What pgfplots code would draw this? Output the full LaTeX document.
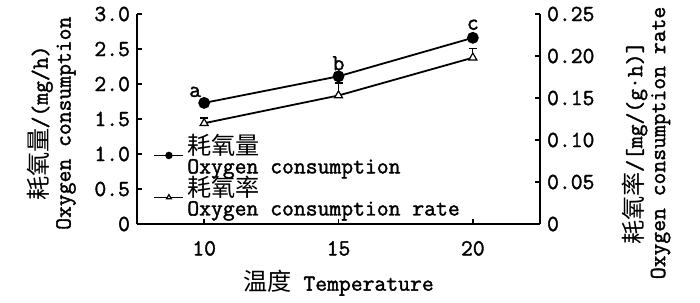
\documentclass[border=0pt]{standalone}
\usepackage{fontspec}
\newfontfamily\mono{Latin Modern Mono}[FakeBold=1.6]
\newfontfamily\cjk{Noto Sans CJK SC}[Scale=1.05]
\newcommand{\zh}[1]{{\cjk #1}}
\usepackage{pgfplots}
\pgfplotsset{compat=1.18}
\begin{document}
\begin{tikzpicture}[font=\mono\fontsize{11.5}{11.5}\selectfont]
\begin{axis}[
  scale only axis, width=201.5pt, height=105pt,
  xmin=7.5, xmax=22.5, ymin=0, ymax=3,
  axis x line*=bottom, axis y line*=left,
  axis line style={-, line width=0.9pt},
  xtick={10,15,20},
  ytick={0,0.5,1,1.5,2,2.5,3},
  yticklabels={0,0.5,1.0,1.5,2.0,2.5,3.0},
  tick align=inside, major tick length=2.5pt,
  tick style={line width=0.9pt, black},
  /pgf/number format/assume math mode=true,
  xticklabel style={yshift=-5pt},
  xlabel={\zh{温度} Temperature},
  xlabel style={at={(axis description cs:0.5,0)}, anchor=center, yshift=-29.5pt},
  ylabel={\zh{耗氧量}/(mg/h)\\Oxygen consumption},
  ylabel style={align=center, at={(axis description cs:-0.212,0.48)}, anchor=center},
  legend style={draw=none, fill=none, at={(axis description cs:0.04,0.428)}, anchor=north west,
    inner sep=0pt, row sep=0pt, column sep=1.5pt,
    nodes={inner sep=0pt, align=left, font=\mono\fontsize{11.5}{9.3}\selectfont}},
  legend cell align=left,
  legend image code/.code={\draw[mark repeat=2, mark phase=2, #1, mark size=1.4pt] plot coordinates {(0pt,0pt) (7.25pt,0pt) (14.5pt,0pt)};},
]
\addplot[black, line width=0.9pt, mark=*, mark size=2.5pt,
  error bars/.cd, y dir=plus, y explicit,
  error mark options={rotate=90, mark size=2pt, line width=0.8pt}]
  coordinates {(10,1.73) +- (0,0.03) (15,2.11) +- (0,0.03) (20,2.66) +- (0,0.05)};
\addlegendentry{\zh{耗氧量}\\Oxygen consumption}
\addlegendimage{black, line width=0.9pt, mark=triangle*, mark options={fill=white, draw=black, line width=0.6pt}}
\addlegendentry{\zh{耗氧率}\\Oxygen consumption rate}
\node at (axis cs:10,1.73) [xshift=-4.5pt, yshift=5.5pt] {a};
\node at (axis cs:15,2.11) [yshift=6.5pt] {b};
\node at (axis cs:20,2.66) [yshift=6.5pt] {c};
\end{axis}
\begin{axis}[
  scale only axis, width=201.5pt, height=105pt,
  xmin=7.5, xmax=22.5, ymin=0, ymax=0.25,
  axis x line=none, axis y line*=right,
  axis line style={-, line width=0.9pt},
  ytick={0,0.05,0.10,0.15,0.20,0.25},
  yticklabels={0,0.05,0.10,0.15,0.20,0.25},
  tick align=inside, major tick length=2.5pt,
  tick style={line width=0.9pt, black},
  /pgf/number format/assume math mode=true,
  ylabel={\zh{耗氧率}/[mg/(g·h)]\\Oxygen consumption rate},
  ylabel style={align=center, at={(axis description cs:1.263,0.386)}, anchor=center},
]
\addplot[black, line width=0.9pt, mark=triangle*, mark size=2.3pt,
  mark options={fill=white, draw=black, line width=0.6pt},
  error bars/.cd, y dir=plus, y explicit,
  error mark options={rotate=90, mark size=2pt, line width=0.8pt}]
  coordinates {(10,0.120) +- (0,0.006) (15,0.153) +- (0,0.015) (20,0.198) +- (0,0.011)};
\end{axis}
\path[use as bounding box] (-68.5pt,-38pt) rectangle (281.5pt,112pt);
\end{tikzpicture}
\end{document}
